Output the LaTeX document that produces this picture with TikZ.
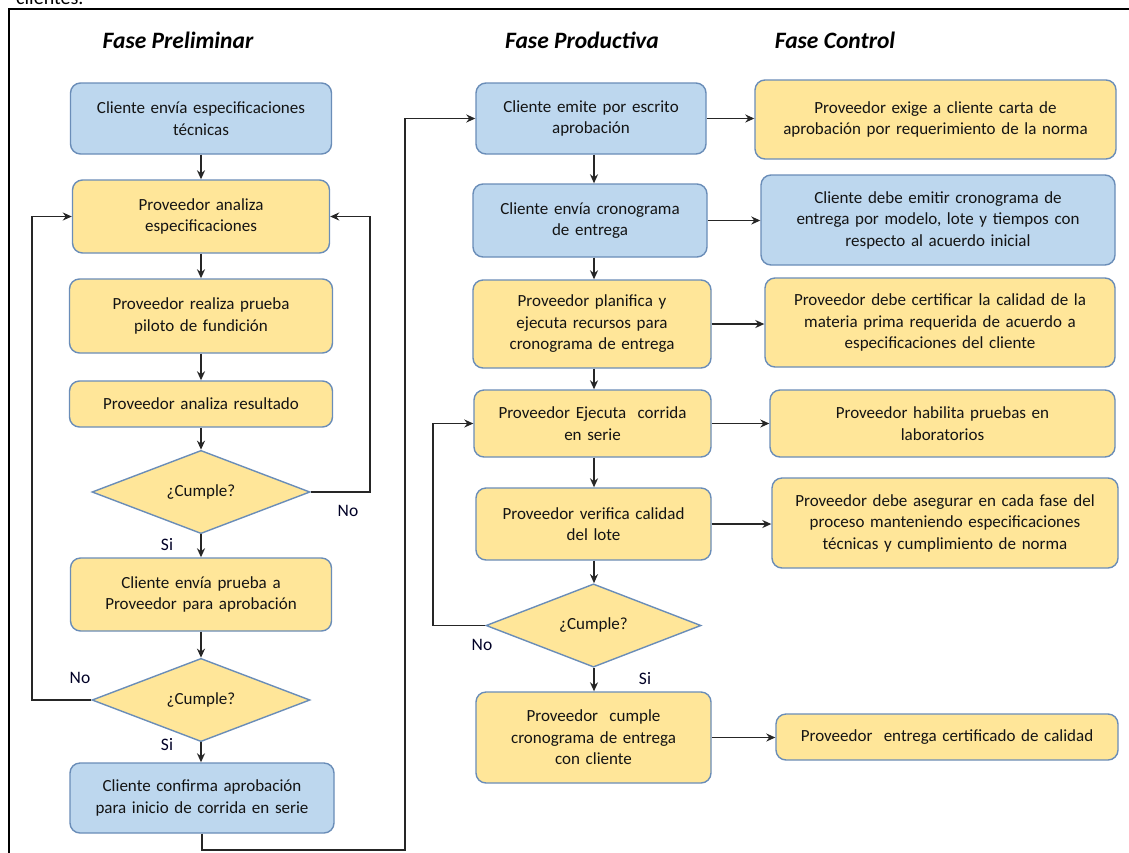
\documentclass[tikz,border=0pt]{standalone}
\usepackage{fontspec}
\setmainfont{Carlito}
\usetikzlibrary{arrows.meta,shapes.geometric}
\definecolor{bluefill}{HTML}{BDD7EE}
\definecolor{yellowfill}{HTML}{FFE699}
\definecolor{edgeblue}{HTML}{6A8DB8}
\definecolor{txt}{HTML}{141414}
\tikzset{
  box/.style={draw=edgeblue, line width=1.4pt, rounded corners=10pt, align=center,
    inner sep=2pt, font=\fontsize{17}{21.5}\selectfont, text=txt},
  clientbox/.style={box, fill=bluefill},
  provbox/.style={box, fill=yellowfill},
  decision/.style={diamond, draw=edgeblue, line width=1.4pt, fill=yellowfill, inner sep=0pt,
    font=\fontsize{17}{21}\selectfont, text=txt},
  flow/.style={draw=black!85, line width=1.7pt, -{Stealth[length=9pt,width=8pt]}},
  phase/.style={font=\fontsize{23.5}{26}\selectfont\bfseries\itshape, text=black},
  answer/.style={font=\fontsize{17.5}{20}\selectfont, text=black!85!blue},
}
\begin{document}
\begin{tikzpicture}[x=1pt,y=-1pt]
\useasboundingbox (0,0) rectangle (1129,852);
\clip (0,0) rectangle (1129,852);
\fill[white] (0,0) rectangle (1129,852);

% text of the page running above the frame
\node[anchor=base west, inner sep=0, font=\fontsize{20}{22}\selectfont] (pagetext) at (16,4) {clientes.};

% frame
\draw[line width=1.8pt, black] (9,860) -- (9,9) -- (1140,9);

% phase titles
\node[phase] (t1) at (178,40) {Fase Preliminar};
\node[phase] (t2) at (582,40) {Fase Productiva};
\node[phase] (t3) at (835,40) {Fase Control};

% preliminary phase
\node[clientbox, minimum width=261pt, minimum height=71pt, text width=250pt] (p1) at (201,118.5)
  {Cliente envía especificaciones\\técnicas};
\node[provbox, minimum width=257pt, minimum height=73pt, text width=245pt] (p2) at (201,216.5)
  {Proveedor analiza\\especificaciones};
\node[provbox, minimum width=263pt, minimum height=74pt, text width=250pt] (p3) at (201,316)
  {Proveedor realiza prueba\\piloto de fundición};
\node[provbox, minimum width=263pt, minimum height=46pt, text width=250pt] (p4) at (201,404)
  {Proveedor analiza resultado};
\node[decision, minimum width=218pt, minimum height=75pt] (d1) at (201,492) {¿Cumple?};
\node[provbox, minimum width=261pt, minimum height=73pt, text width=250pt] (p6) at (201,594.5)
  {Cliente envía prueba a\\Proveedor para aprobación};
\node[decision, minimum width=218pt, minimum height=74pt] (d2) at (201,700) {¿Cumple?};
\node[clientbox, minimum width=264pt, minimum height=70pt, text width=255pt] (p8) at (202,798)
  {Cliente confirma aprobación\\para inicio de corrida en serie};

\draw[flow] (p1.south) -- (p1.south |- p2.north);
\draw[flow] (p2.south) -- (p2.south |- p3.north);
\draw[flow] (p3.south) -- (p3.south |- p4.north);
\draw[flow] (p4.south) -- (p4.south |- d1.north);
\draw[flow] (d1.south) -- (d1.south |- p6.north);
\draw[flow] (p6.south) -- (p6.south |- d2.north);
\draw[flow] (d2.south) -- (d2.south |- p8.north);
\draw[flow] (d1.east) -- (370,492) |- (p2.east);
\draw[flow] (d2.west) -- (32,700) |- (p2.west);
\node[answer] (no1) at (348,511) {No};
\node[answer] (si1) at (167,545) {Si};
\node[answer] (no2) at (80,678) {No};
\node[answer] (si2) at (167,745) {Si};

% productive phase
\node[clientbox, minimum width=230pt, minimum height=71pt, text width=220pt] (m1) at (591,118.5)
  {Cliente emite por escrito\\aprobación};
\node[clientbox, minimum width=234pt, minimum height=73pt, text width=224pt] (m2) at (590,220.5)
  {Cliente envía cronograma\\de entrega};
\node[provbox, minimum width=238pt, minimum height=88pt, text width=228pt] (m3) at (592,324)
  {Proveedor planifica y\\ejecuta recursos para\\cronograma de entrega};
\node[provbox, minimum width=237pt, minimum height=67pt, text width=228pt] (m4) at (592.5,423.5)
  {Proveedor Ejecuta\ \ corrida\\en serie};
\node[provbox, minimum width=235pt, minimum height=72pt, text width=226pt] (m5) at (593.5,524)
  {Proveedor verifica calidad\\del lote};
\node[decision, minimum width=215pt, minimum height=75pt] (md) at (593.5,625.5) {¿Cumple?};
\node[provbox, minimum width=235pt, minimum height=91pt, text width=226pt] (m7) at (593.5,737.5)
  {Proveedor\ \ cumple\\cronograma de entrega\\con cliente};

\coordinate (mx) at (594,0);
\draw[flow] (m1.south -| mx) -- (m2.north -| mx);
\draw[flow] (m2.south -| mx) -- (m3.north -| mx);
\draw[flow] (m3.south -| mx) -- (m4.north -| mx);
\draw[flow] (m4.south -| mx) -- (m5.north -| mx);
\draw[flow] (m5.south -| mx) -- (md.north -| mx);
\draw[flow] (md.south -| mx) -- (m7.north -| mx);
\draw[flow] (md.west) -- (433,625.5) |- (m4.west);
\node[answer] (no3) at (482,645) {No};
\node[answer] (si3) at (645,679) {Si};

% hand-over from the preliminary phase
\draw[flow] (p8.south) -- (202,850) -- (405,850) |- (m1.west);

% control phase
\node[provbox, minimum width=361pt, minimum height=79pt, text width=350pt] (c1) at (935.5,119.5)
  {Proveedor exige a cliente carta de\\aprobación por requerimiento de la norma};
\node[clientbox, minimum width=354pt, minimum height=90pt, text width=345pt] (c2) at (938,220)
  {Cliente debe emitir cronograma de\\entrega por modelo, lote y tiempos con\\respecto al acuerdo inicial};
\node[provbox, minimum width=350pt, minimum height=89pt, text width=342pt] (c3) at (940,322.5)
  {Proveedor debe certificar la calidad de la\\materia prima requerida de acuerdo a\\especificaciones del cliente};
\node[provbox, minimum width=345pt, minimum height=67pt, text width=336pt] (c4) at (942.5,423.5)
  {Proveedor habilita pruebas en\\laboratorios};
\node[provbox, minimum width=346pt, minimum height=90pt, text width=338pt] (c5) at (945,523)
  {Proveedor debe asegurar en cada fase del\\proceso manteniendo especificaciones\\técnicas y cumplimiento de norma};
\node[provbox, minimum width=342pt, minimum height=46pt, text width=334pt] (c6) at (947,737)
  {Proveedor\ \ entrega certificado de calidad};

\draw[flow] (m1.east) -- (m1.east -| c1.west);
\draw[flow] (m2.east) -- (m2.east -| c2.west);
\draw[flow] (m3.east) -- (m3.east -| c3.west);
\draw[flow] (m4.east) -- (m4.east -| c4.west);
\draw[flow] (m5.east) -- (m5.east -| c5.west);
\draw[flow] (m7.east) -- (m7.east -| c6.west);
\end{tikzpicture}
\end{document}
